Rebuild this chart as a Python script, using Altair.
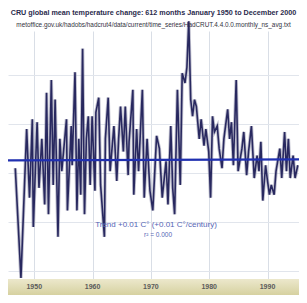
import altair as alt
import pandas as pd

# ---- data ----
years = [1946.75, 1947.72, 1948.70, 1949.19, 1949.67, 1949.84, 1950.49, 1950.81, 1951.30, 1951.79,
         1952.11, 1952.44, 1952.93, 1953.25, 1953.58, 1954.07, 1954.39, 1954.72, 1955.53, 1955.69,
         1956.34, 1956.50, 1956.99, 1957.32, 1957.64, 1957.97, 1958.29, 1958.62, 1958.94, 1959.27,
         1959.59, 1959.92, 1960.41, 1960.57, 1961.06, 1961.38, 1962.03, 1962.20, 1962.68, 1963.01,
         1963.66, 1964.15, 1964.47, 1964.80, 1965.28, 1965.61, 1966.10, 1966.26, 1966.91, 1967.07,
         1967.56, 1967.89, 1968.54, 1968.86, 1969.35, 1969.84, 1970.33, 1970.98, 1971.46, 1971.95,
         1972.60, 1972.93, 1973.41, 1973.74, 1974.07, 1974.55, 1975.04, 1975.37, 1975.85, 1976.18,
         1976.50, 1976.83, 1977.15, 1977.48, 1977.80, 1978.29, 1978.62, 1979.11, 1979.43, 1979.92,
         1980.24, 1980.57, 1980.89, 1981.38, 1981.71, 1982.20, 1982.52, 1983.17, 1983.50, 1983.82,
         1984.15, 1984.63, 1984.96, 1985.61, 1985.93, 1986.42, 1986.75, 1987.24, 1987.72, 1988.21,
         1988.54, 1988.86, 1989.19, 1989.67, 1990.00, 1990.33, 1990.65, 1991.14, 1991.46, 1992.11,
         1992.44, 1992.93, 1993.25, 1993.58, 1993.90, 1994.39, 1994.72, 1995.20]
anomalies = [-0.040, -0.600, 0.160, -0.190, 0.210, -0.340, 0.195, -0.140, 0.110, -0.225,
             0.345, -0.275, 0.410, -0.125, 0.310, -0.390, 0.110, -0.055, 0.210, -0.255,
             0.175, -0.025, 0.450, -0.255, 0.110, -0.175, 0.570, -0.275, 0.110, 0.225,
             -0.125, 0.225, -0.155, 0.245, 0.320, -0.125, -0.390, 0.110, 0.320, -0.055,
             0.175, -0.105, 0.110, 0.275, 0.045, 0.275, -0.075, 0.095, 0.360, -0.175,
             0.160, -0.055, 0.360, -0.190, 0.110, -0.155, -0.255, 0.125, 0.060, -0.190,
             -0.005, -0.225, 0.175, -0.140, -0.275, 0.360, -0.125, 0.445, 0.395, 0.475,
             0.710, 0.310, 0.225, 0.310, 0.275, 0.110, 0.210, 0.075, 0.160, 0.045,
             -0.190, 0.225, 0.145, 0.175, 0.060, -0.040, 0.110, 0.260, 0.110, 0.195,
             -0.025, 0.410, -0.055, 0.060, 0.145, -0.075, 0.045, 0.175, -0.090, 0.025,
             -0.055, 0.095, -0.205, -0.025, -0.105, -0.175, -0.125, -0.175, -0.055, 0.060,
             -0.090, 0.145, -0.055, 0.110, -0.090, 0.025, -0.090, -0.025]
trend_years = [1945.5, 1995.4]
trend_values = [0.0, 0.005]
decade_labels = [1950, 1960, 1970, 1980, 1990]
grid_years = [1950, 1955, 1960, 1965, 1970, 1975, 1980, 1985, 1990, 1995]
grid_values = [-0.5625, -0.5, -0.4375, -0.375, -0.3125, -0.25, -0.1875, -0.125, -0.0625, 0.0,
               0.0625, 0.125, 0.1875, 0.25, 0.3125, 0.375, 0.4375, 0.5, 0.5625, 0.625]

title_text = "CRU global mean temperature change: 612 months January 1950 to December 2000"
source_text = "metoffice.gov.uk/hadobs/hadcrut4/data/current/time_series/HadCRUT.4.4.0.0.monthly_ns_avg.txt"
trend_text = "Trend +0.01 C\u00b0 (+0.01 C\u00b0/century)"
r2_text = "r\u00b2 = 0.000"

W, H = 291, 248
FONT = "Liberation Sans"

series = pd.DataFrame({"year": years, "anomaly": anomalies})
trend = pd.DataFrame({"year": trend_years, "anomaly": trend_values})
labels = pd.DataFrame({"year": decade_labels, "label": [str(d) for d in decade_labels]})

xscale = alt.Scale(domain=[1945.5, 1995.4], nice=False, zero=False)
yscale = alt.Scale(domain=[-0.605, 0.66], nice=False, zero=False)

xaxis = alt.Axis(values=grid_years, grid=True, gridColor="#d9dee6", gridWidth=1,
                 labels=False, ticks=False, domain=False, title=None)
yaxis = alt.Axis(values=grid_values, grid=True, gridColor="#e1e5ec", gridWidth=1,
                 labels=False, ticks=False, domain=False, title=None)

band = alt.Chart(pd.DataFrame({"k": [0]})).mark_rect(
    color=alt.LinearGradient(
        gradient="linear",
        stops=[alt.GradientStop(color="#ece8cc", offset=0),
               alt.GradientStop(color="#d6d1a0", offset=1)],
        x1=0, x2=0, y1=0, y2=1),
).encode(x=alt.value(0), x2=alt.value(W), y=alt.value(H), y2=alt.value(H + 16))

halo = alt.Chart(series).mark_line(color="#8a8aa6", strokeWidth=3.4, opacity=0.55).encode(
    x=alt.X("year:Q", scale=xscale, axis=xaxis),
    y=alt.Y("anomaly:Q", scale=yscale, axis=yaxis),
)
line = alt.Chart(series).mark_line(color="#28285f", strokeWidth=1.6).encode(
    x=alt.X("year:Q", scale=xscale),
    y=alt.Y("anomaly:Q", scale=yscale),
)
trend_line = alt.Chart(trend).mark_line(color="#2030b0", strokeWidth=2.2).encode(
    x=alt.X("year:Q", scale=xscale),
    y=alt.Y("anomaly:Q", scale=yscale),
)

tick_labels = alt.Chart(labels).mark_text(
    font=FONT, fontSize=7, fontWeight="bold", color="#5a5a5a", baseline="middle"
).encode(x=alt.X("year:Q", scale=xscale), y=alt.value(H + 8), text="label:N")

title = alt.Chart(pd.DataFrame({"t": [title_text]})).mark_text(
    font=FONT, fontSize=7.2, fontWeight="bold", color="#2a2a4c", align="center", baseline="middle"
).encode(x=alt.value(W / 2), y=alt.value(-18), text="t:N")

source = alt.Chart(pd.DataFrame({"t": [source_text]})).mark_text(
    font=FONT, fontSize=6.4, color="#333340", align="center", baseline="middle"
).encode(x=alt.value(W / 2), y=alt.value(-6), text="t:N")

trend_label = alt.Chart(pd.DataFrame({"t": [trend_text]})).mark_text(
    font=FONT, fontSize=8, color="#5565b5", align="center", baseline="middle"
).encode(x=alt.value(148), y=alt.value(194), text="t:N")

r2_label = alt.Chart(pd.DataFrame({"t": [r2_text]})).mark_text(
    font=FONT, fontSize=6.5, color="#5565b5", align="center", baseline="middle"
).encode(x=alt.value(150), y=alt.value(204), text="t:N")

chart = alt.layer(
    band, halo, line, trend_line, tick_labels, title, source, trend_label, r2_label
).properties(
    width=W, height=H,
    padding={"left": 0, "top": 23, "right": 0, "bottom": 16},
    autosize=alt.AutoSizeParams(type="none"),
    background="#ffffff",
).configure_view(stroke=None)

chart.save("out.html", embed_options={"renderer": "svg", "actions": False})
